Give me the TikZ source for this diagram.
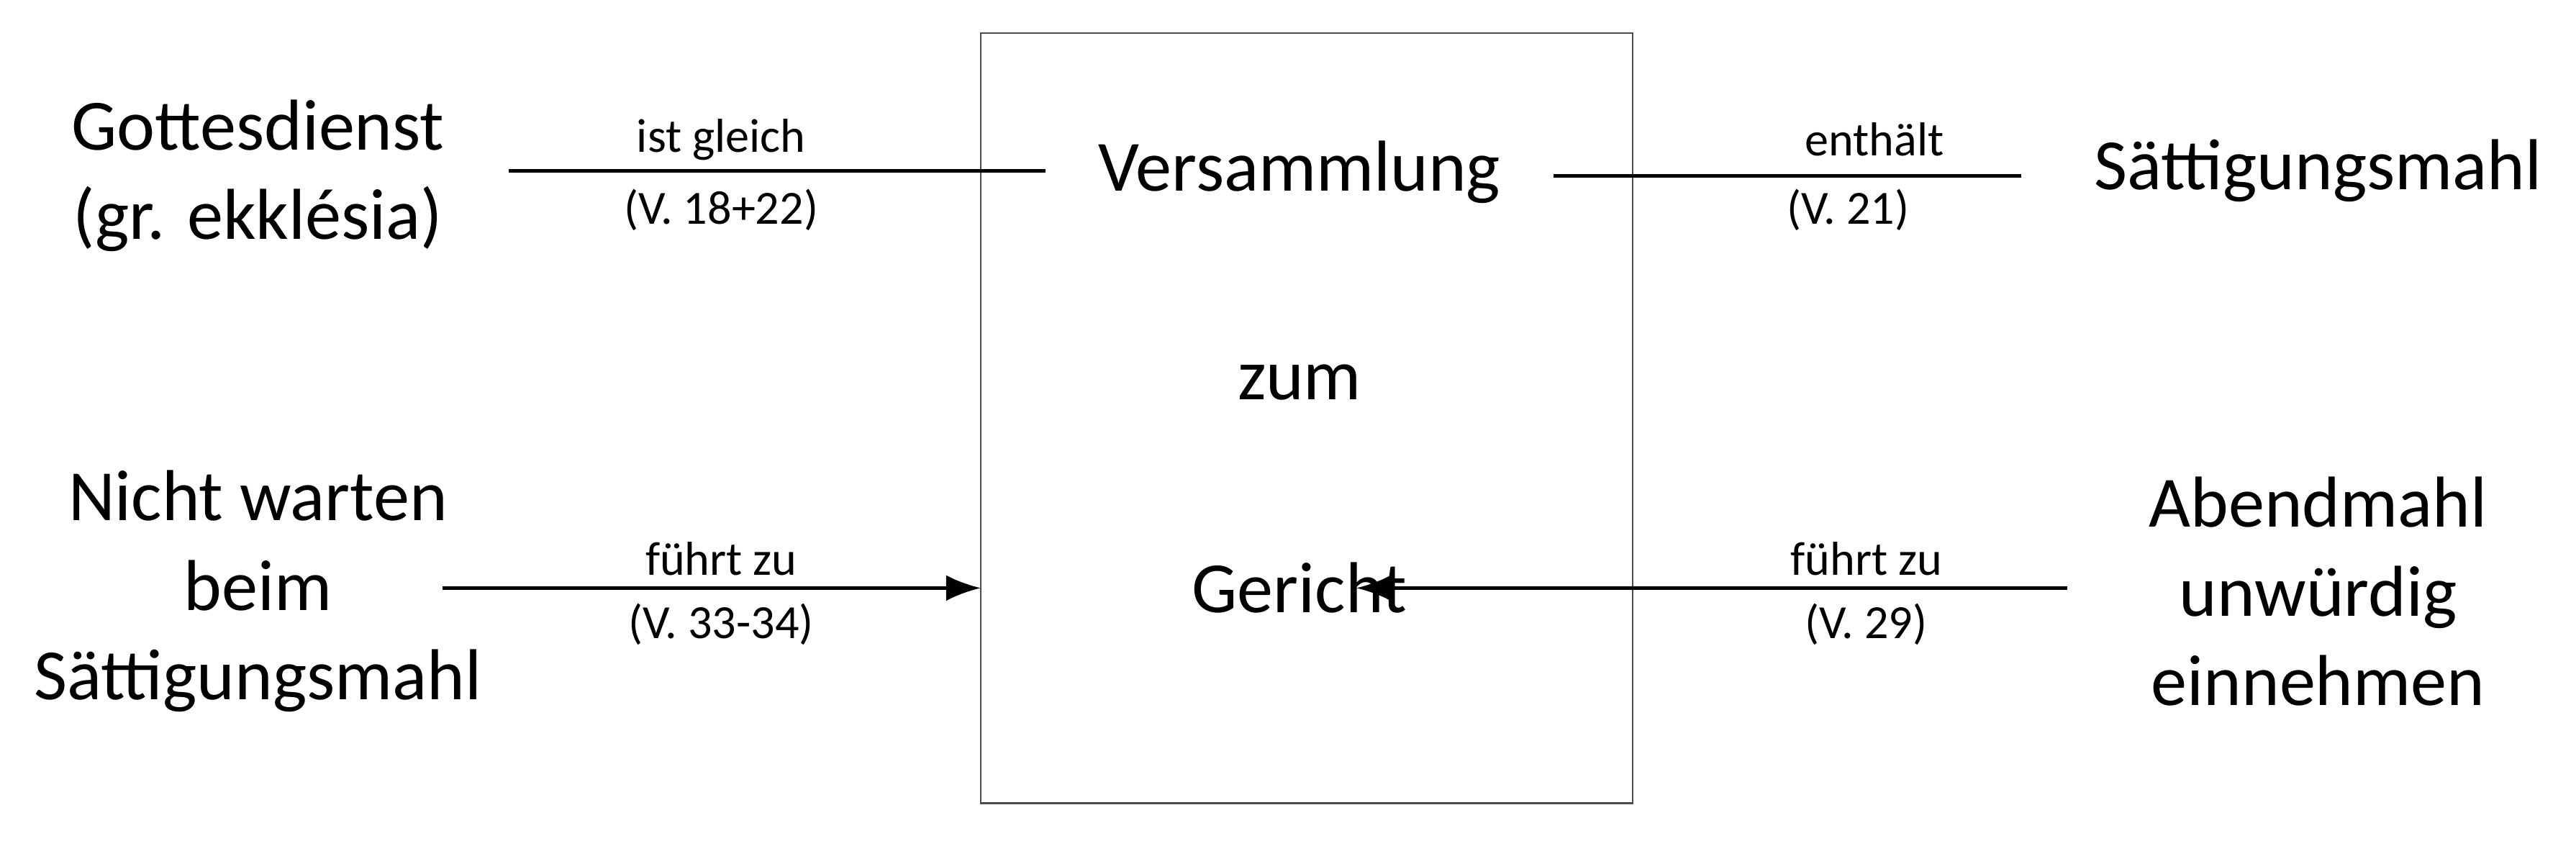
\documentclass[tikz,border=0pt]{standalone}
\usepackage{fontspec}
\setmainfont{Carlito}
\usetikzlibrary{arrows.meta}
\begin{document}
\begin{tikzpicture}[x=0.02cm, y=-0.02cm, thick,
    big/.style = {align=center, font=\fontsize{25}{31}\selectfont, inner sep=0pt},
    small/.style = {font=\fontsize{16.5}{20}\selectfont, inner sep=0pt},
    link/.style = {line width=1.2pt},
    arr/.style = {link, -{Latex[length=12pt, width=9pt]}}]

    \useasboundingbox (0,0) rectangle (1568,515);

    % Box
    \draw[line width=0.5pt, draw=black!70] (597,20) rectangle (994,489);

    % Terms
    \node[big] (gott) at (157,107) {Gottesdienst\\(gr. ekklésia)};
    \node[big] (vers) at (791,105) {Versammlung};
    \node[big] (satt) at (1411,104) {Sättigungsmahl};
    \node[big] (zum) at (791,233) {zum};
    \node[big] (nicht) at (157,360) {Nicht warten\\beim\\Sättigungsmahl};
    \node[big] (ger) at (791,358) {Gericht};
    \node[big] (abend) at (1411,360) {Abendmahl\\unwürdig\\einnehmen};

    % Anchors of the connectors
    \coordinate (boxw) at (597,358);

    % Connectors
    \draw[link] ([xshift=22pt]gott.east |- 0,104) -- ([xshift=-18pt]vers.west |- 0,104);
    \draw[link] ([xshift=18pt]vers.east |- 0,107) -- ([xshift=-25pt]satt.west |- 0,107);
    \draw[arr] ([xshift=-14pt]nicht.east |- boxw) -- (boxw);
    \draw[arr] ([xshift=-28pt]abend.west |- boxw) -- ([xshift=-18pt]ger.east |- boxw);

    % Labels
    \node[small] at (439,85) {ist gleich};
    \node[small] at (439,128) {(V. 18+22)};
    \node[small] at (1141,85) {enthält};
    \node[small] at (1125,128) {(V. 21)};
    \node[small] at (439,340) {führt zu};
    \node[small] at (439,380) {(V. 33-34)};
    \node[small] at (1136,340) {führt zu};
    \node[small] at (1136,380) {(V. 29)};
\end{tikzpicture}
\end{document}
